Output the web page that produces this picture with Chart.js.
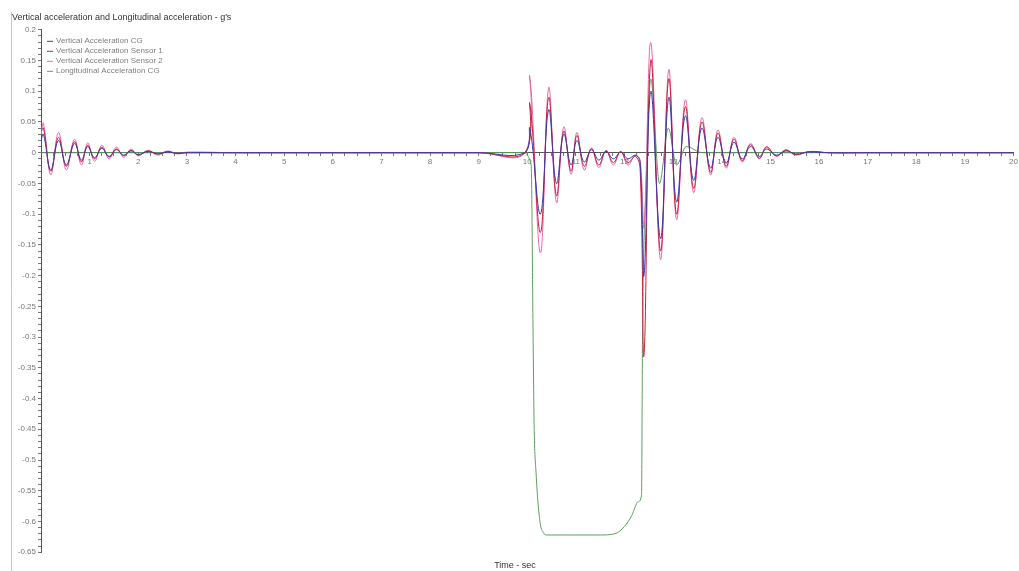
<!DOCTYPE html>
<html>
<head>
<meta charset="utf-8">
<script src="https://cdn.jsdelivr.net/npm/chart.js@4/dist/chart.umd.min.js"></script>
<style>
html,body{margin:0;padding:0;background:#fff;}
canvas{display:block;}
</style>
</head>
<body>
<canvas id="c" width="1019" height="571"></canvas>
<script>
// ---- data ----
const seriesNames = ["Vertical Acceleration CG", "Vertical Acceleration Sensor 1", "Vertical Acceleration Sensor 2", "Longitudinal Acceleration CG"];

const time = [0, 0.05, 0.2, 0.36, 0.52, 0.69, 0.83, 0.96, 1.1, 1.25, 1.4, 1.55, 1.7, 1.85, 2.0, 2.2, 2.4, 2.6, 2.8, 3.0,
  4, 5, 6, 7, 8, 9, 9.95,
  10.05, 10.27, 10.44, 10.6, 10.75, 10.9, 11.02, 11.17, 11.32, 11.47, 11.62, 11.77, 11.92, 12.07, 12.22, 12.32,
  12.4, 12.54, 12.74, 12.91, 13.07, 13.25, 13.42, 13.59, 13.77, 13.92, 14.09, 14.25, 14.42, 14.59, 14.77, 14.92, 15.12, 15.32, 15.52, 15.8,
  16.2, 17, 18, 19, 20];

const vertCG = [0.02, 0.03, -0.028, 0.02, -0.02, 0.015, -0.012, 0.01, -0.008, 0.007, -0.006, 0.005, -0.004, 0.003, -0.003, 0.002, -0.002, 0.001, -0.001, 0,
  0, 0, 0, 0, 0, 0, 0,
  0.04, -0.1, 0.07, -0.05, 0.03, -0.02, 0.02, -0.015, 0.005, -0.012, 0.002, -0.01, 0.001, -0.01, -0.004, -0.015,
  -0.2, 0.1, -0.14, 0.09, -0.08, 0.06, -0.045, 0.04, -0.025, 0.025, -0.017, 0.017, -0.01, 0.01, -0.006, 0.006, -0.004, 0.003, -0.002, 0.001,
  0, 0, 0, 0, 0];

const vertSensor1 = [0.035, 0.04, -0.03, 0.025, -0.022, 0.018, -0.015, 0.012, -0.01, 0.009, -0.007, 0.006, -0.005, 0.004, -0.004, 0.003, -0.002, 0.002, -0.001, 0,
  0, 0, 0, 0, 0, 0, 0,
  0.08, -0.13, 0.09, -0.07, 0.035, -0.03, 0.028, -0.022, 0.006, -0.02, 0.003, -0.016, 0.002, -0.016, -0.006, -0.025,
  -0.33, 0.15, -0.16, 0.12, -0.1, 0.075, -0.058, 0.05, -0.032, 0.032, -0.022, 0.022, -0.013, 0.013, -0.009, 0.009, -0.005, 0.004, -0.003, 0.002,
  0, 0, 0, 0, 0];

const vertSensor2 = [0.03, 0.048, -0.036, 0.033, -0.028, 0.022, -0.02, 0.016, -0.014, 0.012, -0.01, 0.009, -0.007, 0.006, -0.005, 0.004, -0.004, 0.003, -0.002, 0.001,
  0, 0, 0, 0, 0, 0, 0,
  0.124, -0.163, 0.106, -0.081, 0.042, -0.035, 0.033, -0.028, 0.008, -0.024, 0.004, -0.02, 0.002, -0.02, -0.004, -0.012,
  -0.12, 0.179, -0.174, 0.135, -0.109, 0.086, -0.065, 0.057, -0.036, 0.037, -0.025, 0.025, -0.015, 0.015, -0.01, 0.01, -0.006, 0.005, -0.004, 0.002,
  0, 0, 0, 0, 0];

const timeLong = [0, 2, 4, 6, 8, 9.9, 10.08, 10.12, 10.14, 10.18, 10.26, 10.33, 10.4,
  11.0, 11.5, 11.8, 12.0, 12.15, 12.28, 12.35,
  12.37, 12.44, 12.54, 12.72, 12.9, 13.07, 13.27, 13.6,
  14, 16, 18, 20];
const longCG = [0, 0, 0, 0, 0, 0, -0.02, -0.3, -0.44, -0.52, -0.6, -0.618, -0.622,
  -0.622, -0.622, -0.62, -0.608, -0.59, -0.568, -0.557,
  -0.3, -0.06, 0.12, -0.05, 0.04, -0.02, 0.01, 0,
  0, 0, 0, 0];

const yTickMin = -0.65, yTickMax = 0.2, yMajorStep = 0.05;
const xTickMin = 0, xTickMax = 20;
const titleText = "Vertical acceleration and Longitudinal acceleration - g's";
const xAxisTitle = "Time - sec";

// ---- build ----
const pts = (xs, ys) => xs.map((x, i) => ({x: x, y: ys[i]}));
const colors = ["#3a3aa8", "#c8203c", "#e66aa8", "#5f9e5f"];
const FONT = "'Liberation Sans', Arial, sans-serif";

const frame = {
  id: 'frame',
  afterDraw(chart) {
    const ctx = chart.ctx;
    ctx.save();
    ctx.strokeStyle = '#c8c8c8';
    ctx.lineWidth = 1;
    ctx.beginPath();
    ctx.moveTo(11.5, 12);
    ctx.lineTo(11.5, 571);
    ctx.stroke();
    // legend inside the plot area, top-left
    const ca = chart.chartArea;
    ctx.font = "8px " + FONT;
    ctx.textBaseline = 'middle';
    ctx.textAlign = 'left';
    chart.data.datasets.forEach((ds, i) => {
      const y = ca.top + 11 + i * 10;
      const x0 = ca.left + 6;
      ctx.strokeStyle = ds.borderColor;
      ctx.lineWidth = 1;
      ctx.beginPath();
      ctx.moveTo(x0, y + 0.5);
      ctx.lineTo(x0 + 6, y + 0.5);
      ctx.stroke();
      ctx.fillStyle = '#808080';
      ctx.fillText(ds.label, x0 + 9, y);
    });
    ctx.restore();
  }
};

new Chart(document.getElementById('c'), {
  type: 'line',
  data: {
    datasets: [
      {label: seriesNames[0], data: pts(time, vertCG), borderColor: colors[0], backgroundColor: colors[0], tension: 0.4},
      {label: seriesNames[1], data: pts(time, vertSensor1), borderColor: colors[1], backgroundColor: colors[1], tension: 0.4},
      {label: seriesNames[2], data: pts(time, vertSensor2), borderColor: colors[2], backgroundColor: colors[2], tension: 0.4},
      {label: seriesNames[3], data: pts(timeLong, longCG), borderColor: colors[3], backgroundColor: colors[3], cubicInterpolationMode: 'monotone'}
    ]
  },
  options: {
    responsive: false,
    animation: false,
    devicePixelRatio: 1,
    elements: {point: {radius: 0}, line: {borderWidth: 1}},
    layout: {padding: {left: 12, right: 1, top: 0, bottom: 0}},
    plugins: {
      title: {display: true, text: titleText, align: 'start', color: '#333',
        font: {family: FONT, size: 9, weight: 'normal'}, padding: {top: 12, bottom: 7}},
      subtitle: {display: true, text: xAxisTitle, position: 'bottom', color: '#333',
        font: {family: FONT, size: 9, weight: 'normal'}, padding: {top: 8, bottom: 0}},
      legend: {display: false},
      tooltip: {enabled: false}
    },
    scales: {
      x: {
        type: 'linear', min: xTickMin, max: xTickMax, position: {y: 0},
        border: {color: '#555'},
        grid: {drawOnChartArea: false, tickLength: 3, color: '#777'},
        ticks: {stepSize: 0.25, autoSkip: false, maxRotation: 0, color: '#777', padding: 1,
          font: {family: FONT, size: 8},
          callback: v => (Math.abs(v - Math.round(v)) < 1e-6 && Math.round(v) !== 0) ? String(Math.round(v)) : ''}
      },
      y: {
        min: yTickMin, max: yTickMax,
        afterFit: s => { s.width = 29; },
        border: {color: '#555'},
        grid: {drawOnChartArea: false, tickLength: 3, color: '#777'},
        ticks: {stepSize: 0.01, autoSkip: false, color: '#777', padding: 2,
          font: {family: FONT, size: 8},
          callback: v => {
            const r = v / yMajorStep;
            return Math.abs(r - Math.round(r)) < 1e-6 ? String(Number((Math.round(r) * yMajorStep).toFixed(2))) : '';
          }}
      }
    }
  },
  plugins: [frame]
});
</script>
</body>
</html>
